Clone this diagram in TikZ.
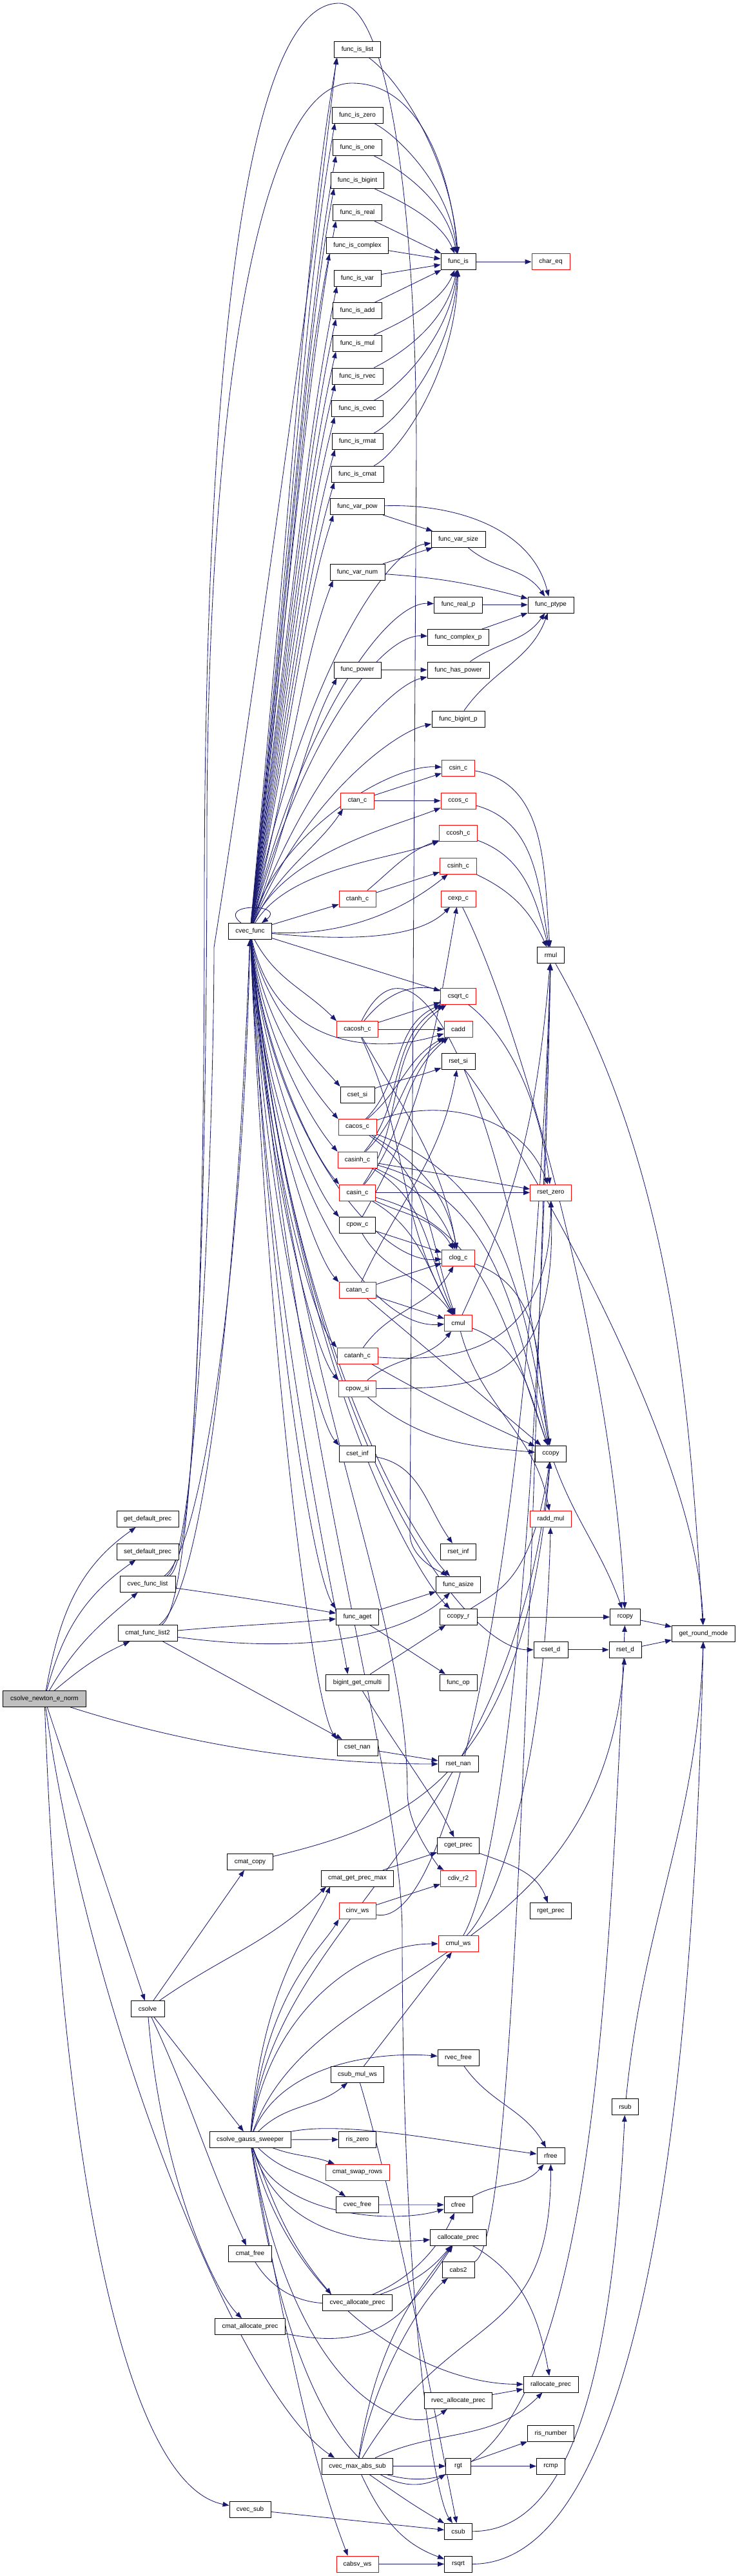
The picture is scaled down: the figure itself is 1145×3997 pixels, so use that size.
\documentclass[tikz,border=0pt]{standalone}
\usepackage{fontspec}
\setmainfont{Liberation Sans}
\usetikzlibrary{arrows.meta}
\pgfdeclarelayer{bg}
\pgfsetlayers{bg,main}
\definecolor{edgecol}{RGB}{25,25,112}
\definecolor{rootgray}{RGB}{191,191,191}
\definecolor{redb}{RGB}{255,0,0}
\begin{document}
\begin{tikzpicture}[x=1pt,y=1pt,
  nd/.style={draw=black, line width=0.8pt, minimum height=25pt, inner xsep=2pt, inner ysep=0pt, font=\fontsize{10}{12}\selectfont, fill=white},
  rd/.style={nd, draw=redb},
  e/.style={draw=edgecol, line width=0.85pt, -{Triangle[length=10pt,width=7.5pt]}}]
\useasboundingbox (0,0) rectangle (1145,-3997);
% ---- column 0/1/2
\node[nd,minimum width=129pt,fill=rootgray] (root) at (69,-2636) {csolve\_newton\_e\_norm};
\node[nd,minimum width=96pt] (gdp) at (229,-2357) {get\_default\_prec};
\node[nd,minimum width=96pt] (sdp) at (229,-2407.5) {set\_default\_prec};
\node[nd,minimum width=86pt] (cfl) at (229,-2458) {cvec\_func\_list};
\node[nd,minimum width=92pt] (cfl2) at (229,-2534) {cmat\_func\_list2};
\node[nd,minimum width=52pt] (csolve) at (229,-3117) {csolve};
\node[nd,minimum width=67pt] (cvf) at (388,-1445) {cvec\_func};
\node[nd,minimum width=71pt] (cmcopy) at (388,-2889) {cmat\_copy};
\node[nd,minimum width=126pt] (cgs) at (388,-3320) {csolve\_gauss\_sweeper};
\node[nd,minimum width=67pt] (cmfree) at (388,-3497) {cmat\_free};
\node[nd,minimum width=109pt] (cmalloc) at (388,-3610) {cmat\_allocate\_prec};
\node[nd,minimum width=64pt] (cvsub) at (388,-3894) {cvec\_sub};
% ---- column 3
\node[nd,minimum width=72pt] (isl) at (554.5,-77) {func\_is\_list};
\node[nd,minimum width=79pt] (isz) at (554.5,-178.4) {func\_is\_zero};
\node[nd,minimum width=76pt] (iso) at (554.5,-229) {func\_is\_one};
\node[nd,minimum width=82pt] (isb) at (554.5,-279.5) {func\_is\_bigint};
\node[nd,minimum width=76pt] (isr) at (554.5,-330.2) {func\_is\_real};
\node[nd,minimum width=96pt] (isc) at (554.5,-381) {func\_is\_complex};
\node[nd,minimum width=73pt] (isv) at (554.5,-431.6) {func\_is\_var};
\node[nd,minimum width=76pt] (isa) at (554.5,-482.3) {func\_is\_add};
\node[nd,minimum width=76pt] (ism) at (554.5,-532.8) {func\_is\_mul};
\node[nd,minimum width=79pt] (isrv) at (554.5,-583.4) {func\_is\_rvec};
\node[nd,minimum width=80pt] (iscv) at (554.5,-634.1) {func\_is\_cvec};
\node[nd,minimum width=79pt] (isrm) at (554.5,-684.8) {func\_is\_rmat};
\node[nd,minimum width=81pt] (iscm) at (554.5,-735.5) {func\_is\_cmat};
\node[nd,minimum width=84pt] (vpow) at (554.5,-786.2) {func\_var\_pow};
\node[nd,minimum width=85pt] (vnum) at (554.5,-887.7) {func\_var\_num};
\node[nd,minimum width=73pt] (fpow) at (554.5,-1039.4) {func\_power};
\node[rd,minimum width=52pt] (ctan) at (554.5,-1242.5) {ctan\_c};
\node[rd,minimum width=57pt] (ctanh) at (554.5,-1394.5) {ctanh\_c};
\node[rd,minimum width=64pt] (cacosh) at (554.5,-1597) {cacosh\_c};
\node[nd,minimum width=53pt] (csetsi) at (554.5,-1698.6) {cset\_si};
\node[rd,minimum width=59pt] (cacos) at (554.5,-1749) {cacos\_c};
\node[rd,minimum width=61pt] (casinh) at (554.5,-1799.6) {casinh\_c};
\node[rd,minimum width=56pt] (casin) at (554.5,-1850.4) {casin\_c};
\node[nd,minimum width=56pt] (cpowc) at (554.5,-1901) {cpow\_c};
\node[rd,minimum width=57pt] (catan) at (554.5,-2002.3) {catan\_c};
\node[rd,minimum width=63pt] (catanh) at (554.5,-2103.7) {catanh\_c};
\node[rd,minimum width=58pt] (cpowsi) at (554.5,-2154.4) {cpow\_si};
\node[nd,minimum width=56pt] (csetinf) at (554.5,-2255.5) {cset\_inf};
\node[nd,minimum width=66pt] (aget) at (554.5,-2509) {func\_aget};
\node[nd,minimum width=98pt] (bgc) at (554.5,-2610.5) {bigint\_get\_cmulti};
\node[nd,minimum width=63pt] (csetnan) at (554.5,-2711.6) {cset\_nan};
\node[nd,minimum width=112pt] (cgpm) at (554.5,-2914.5) {cmat\_get\_prec\_max};
\node[rd,minimum width=57pt] (cinvws) at (554.5,-2965.2) {cinv\_ws};
\node[nd,minimum width=82pt] (csmws) at (554.5,-3218.7) {csub\_mul\_ws};
\node[nd,minimum width=58pt] (riszero) at (554.5,-3319.7) {ris\_zero};
\node[rd,minimum width=99pt] (cswap) at (554.5,-3370.5) {cmat\_swap\_rows};
\node[nd,minimum width=66pt] (cvfree) at (554.5,-3420.9) {cvec\_free};
\node[nd,minimum width=108pt] (cvalloc) at (554.5,-3572.9) {cvec\_allocate\_prec};
\node[nd,minimum width=110pt] (cvmas) at (554.5,-3826.5) {cvec\_max\_abs\_sub};
\node[rd,minimum width=65pt] (cabsvws) at (554.5,-3978.4) {cabsv\_ws};
% ---- column 4
\node[nd,minimum width=54pt] (fis) at (711,-406.2) {func\_is};
\node[nd,minimum width=84pt] (vsize) at (711,-837) {func\_var\_size};
\node[nd,minimum width=75pt] (realp) at (711,-938.4) {func\_real\_p};
\node[nd,minimum width=95pt] (cplxp) at (711,-989) {func\_complex\_p};
\node[nd,minimum width=96pt] (haspow) at (711,-1039.4) {func\_has\_power};
\node[nd,minimum width=82pt] (bigp) at (711,-1115.4) {func\_bigint\_p};
\node[rd,minimum width=51pt] (csin) at (711,-1191.4) {csin\_c};
\node[rd,minimum width=54pt] (ccos) at (711,-1242.5) {ccos\_c};
\node[rd,minimum width=59pt] (ccosh) at (711,-1293) {ccosh\_c};
\node[rd,minimum width=57pt] (csinh) at (711,-1343.7) {csinh\_c};
\node[rd,minimum width=54pt] (cexp) at (711,-1394.5) {cexp\_c};
\node[rd,minimum width=55pt] (csqrt) at (711,-1546.2) {csqrt\_c};
\node[rd,minimum width=44pt] (cadd) at (711,-1597) {cadd};
\node[nd,minimum width=52pt] (rsetsi) at (711,-1647.3) {rset\_si};
\node[rd,minimum width=51pt] (clog) at (711,-1951.6) {clog\_c};
\node[rd,minimum width=43pt] (cmul) at (711,-2053) {cmul};
\node[nd,minimum width=55pt] (rsetinf) at (711,-2407.5) {rset\_inf};
\node[nd,minimum width=69pt] (asize) at (711,-2458.4) {func\_asize};
\node[nd,minimum width=58pt] (ccopyr) at (711,-2509) {ccopy\_r};
\node[nd,minimum width=58pt] (fop) at (711,-2610.5) {func\_op};
\node[nd,minimum width=62pt] (rsetnan) at (711,-2737) {rset\_nan};
\node[nd,minimum width=65pt] (cgetprec) at (711,-2863.6) {cget\_prec};
\node[rd,minimum width=55pt] (cdivr2) at (711,-2914.5) {cdiv\_r2};
\node[rd,minimum width=62pt] (cmulws) at (711,-3016) {cmul\_ws};
\node[nd,minimum width=64pt] (rvfree) at (711,-3193) {rvec\_free};
\node[nd,minimum width=44pt] (cfree) at (711,-3421) {cfree};
\node[nd,minimum width=87pt] (calloc) at (711,-3471.5) {callocate\_prec};
\node[nd,minimum width=50pt] (cabs2) at (711,-3522) {cabs2};
\node[nd,minimum width=105pt] (rvalloc) at (711,-3725) {rvec\_allocate\_prec};
\node[nd,minimum width=39pt] (rgt) at (711,-3826.5) {rgt};
\node[nd,minimum width=43pt] (csub) at (711,-3927.7) {csub};
\node[nd,minimum width=43pt] (rsqrt) at (711,-3978.4) {rsqrt};
% ---- column 5/6/7
\node[rd,minimum width=59pt] (chareq) at (854.5,-406.2) {char\_eq};
\node[nd,minimum width=71pt] (ptype) at (854.5,-938.4) {func\_ptype};
\node[nd,minimum width=42pt] (rmul) at (854.5,-1482.3) {rmul};
\node[rd,minimum width=64pt] (rsetzero) at (854.5,-1850.4) {rset\_zero};
\node[nd,minimum width=48pt] (ccopy) at (854.5,-2255.5) {ccopy};
\node[rd,minimum width=64pt] (raddmul) at (854.5,-2357) {radd\_mul};
\node[nd,minimum width=53pt] (csetd) at (854.5,-2559.8) {cset\_d};
\node[nd,minimum width=64pt] (rgetprec) at (854.5,-2965.2) {rget\_prec};
\node[nd,minimum width=43pt] (rfree) at (854.5,-3345) {rfree};
\node[nd,minimum width=85pt] (ralloc) at (854.5,-3699.4) {rallocate\_prec};
\node[nd,minimum width=72pt] (risnum) at (854.5,-3775.6) {ris\_number};
\node[nd,minimum width=44pt] (rcmp) at (854.5,-3826.5) {rcmp};
\node[nd,minimum width=47pt] (rcopy) at (970,-2509) {rcopy};
\node[nd,minimum width=50pt] (rsetd) at (970,-2559.8) {rset\_d};
\node[nd,minimum width=41pt] (rsub) at (970,-3269) {rsub};
\node[nd,minimum width=98pt] (grm) at (1091.4,-2534.4) {get\_round\_mode};
% ---- waypoints
\coordinate (wA1) at (317,-1400);
\coordinate (wA2) at (526,-5);
\coordinate (wA3) at (646,-700);
\coordinate (wA4) at (636,-2380);
\coordinate (wB1) at (321,-1300);
\coordinate (wB2) at (546,-129);
\coordinate (wL) at (332,-1470);
\coordinate (wS1) at (624,-3000);
\coordinate (wD1) at (632,-2780);
\begin{pgfonlayer}{bg}
% func_is group
\draw[e] (isl) .. controls +(70,-50) and +(-10,150) .. (fis);
\draw[e] (isz) .. controls +(60,-30) and +(-15,120) .. (fis);
\draw[e] (iso) .. controls +(60,-30) and +(-20,100) .. (fis);
\draw[e] (isb) .. controls +(50,-25) and +(-30,70) .. (fis);
\draw[e] (isr) -- (fis);
\draw[e] (isc) -- (fis);
\draw[e] (isv) -- (fis);
\draw[e] (isa) -- (fis);
\draw[e] (ism) .. controls +(50,25) and +(-30,-70) .. (fis);
\draw[e] (isrv) .. controls +(60,30) and +(-20,-100) .. (fis);
\draw[e] (iscv) .. controls +(60,30) and +(-15,-120) .. (fis);
\draw[e] (isrm) .. controls +(60,30) and +(-10,-150) .. (fis);
\draw[e] (iscm) .. controls +(60,30) and +(-5,-180) .. (fis);
\draw[e] (fis) -- (chareq);
% ptype group
\draw[e] (vpow) -- (vsize);
\draw[e] (vpow) .. controls +(150,5) and +(-30,120) .. (ptype);
\draw[e] (vnum) -- (vsize);
\draw[e] (vnum) to[out=-4,in=165] (ptype);
\draw[e] (vsize) to[out=-40,in=125] (ptype);
\draw[e] (realp) -- (ptype);
\draw[e] (cplxp) -- (ptype);
\draw[e] (haspow) to[out=35,in=-125] (ptype);
\draw[e] (bigp) to[out=55,in=-110] (ptype);
\draw[e] (fpow) -- (haspow);
% cvec_func fan upward (column 3)
\draw[e] (cvf) .. controls +(70,745) and +(-45,-250) .. ([xshift=5pt]isl.south west);
\draw[e] (cvf) .. controls +(70,683) and +(-45,-250) .. ([xshift=5pt]isz.south west);
\draw[e] (cvf) .. controls +(70,655) and +(-45,-250) .. ([xshift=5pt]iso.south west);
\draw[e] (cvf) .. controls +(70,627) and +(-45,-250) .. ([xshift=5pt]isb.south west);
\draw[e] (cvf) .. controls +(70,599) and +(-45,-240) .. ([xshift=5pt]isr.south west);
\draw[e] (cvf) .. controls +(70,571) and +(-45,-228) .. ([xshift=5pt]isc.south west);
\draw[e] (cvf) .. controls +(70,543) and +(-45,-217) .. ([xshift=5pt]isv.south west);
\draw[e] (cvf) .. controls +(70,515) and +(-45,-206) .. ([xshift=5pt]isa.south west);
\draw[e] (cvf) .. controls +(70,488) and +(-45,-195) .. ([xshift=5pt]ism.south west);
\draw[e] (cvf) .. controls +(70,460) and +(-45,-184) .. ([xshift=5pt]isrv.south west);
\draw[e] (cvf) .. controls +(70,432) and +(-45,-173) .. ([xshift=5pt]iscv.south west);
\draw[e] (cvf) .. controls +(70,404) and +(-45,-162) .. ([xshift=5pt]isrm.south west);
\draw[e] (cvf) .. controls +(70,376) and +(-45,-150) .. ([xshift=5pt]iscm.south west);
\draw[e] (cvf) .. controls +(70,348) and +(-45,-139) .. ([xshift=5pt]vpow.south west);
\draw[e] (cvf) .. controls +(70,293) and +(-45,-117) .. ([xshift=5pt]vnum.south west);
\draw[e] (cvf) .. controls +(70,209) and +(-45,-84) .. ([xshift=5pt]fpow.south west);
\draw[e] (cvf) .. controls +(40,90) and +(-40,-60) .. ([xshift=4pt]ctan.south west);
\draw[e] (cvf) -- (ctanh);
% cvec_func fan upward (column 4)
\draw[e] (cvf) .. controls +(80,400) and +(-110,-15) .. (vsize);
\draw[e] (cvf) .. controls +(80,330) and +(-110,5) .. (realp);
\draw[e] (cvf) .. controls +(80,300) and +(-120,5) .. (cplxp);
\draw[e] (cvf) .. controls +(80,230) and +(-110,-25) .. (haspow);
\draw[e] (cvf) .. controls +(80,200) and +(-100,-20) .. (bigp);
\draw[e] (cvf) .. controls +(40,150) and +(-110,5) .. (csin);
\draw[e] (cvf) .. controls +(50,120) and +(-100,-40) .. (ccos);
\draw[e] (cvf) .. controls +(60,100) and +(-100,-40) .. (ccosh);
\draw[e] (cvf) .. controls +(180,-10) and +(-50,-40) .. (csinh);
\draw[e] (cvf) .. controls +(200,-20) and +(-50,-50) .. (cexp);
\draw[e] (cvf) -- (csqrt);
\draw[e] (cvf) .. controls +(40,-180) and +(-130,-40) .. (cadd);
% self loop
\draw[e] ([xshift=-14pt]cvf.north) .. controls +(-40,32) and +(40,30) .. ([xshift=18pt]cvf.north);
% cvec_func fan downward (column 3)
\draw[e] (cvf) to[out=-62,in=135] (cacosh.north west);
\draw[e] (cvf) .. controls +(20,-115) and +(-40,45) .. (csetsi.north west);
\draw[e] (cvf) .. controls +(20,-140) and +(-40,45) .. (cacos.north west);
\draw[e] (cvf) .. controls +(20,-165) and +(-40,45) .. (casinh.north west);
\draw[e] (cvf) .. controls +(20,-190) and +(-40,45) .. (casin.north west);
\draw[e] (cvf) .. controls +(20,-215) and +(-40,45) .. (cpowc.north west);
\draw[e] (cvf) .. controls +(20,-265) and +(-40,45) .. (catan.north west);
\draw[e] (cvf) .. controls +(20,-315) and +(-40,45) .. (catanh.north west);
\draw[e] (cvf) .. controls +(20,-340) and +(-40,45) .. (cpowsi.north west);
\draw[e] (cvf) .. controls +(20,-390) and +(-40,45) .. (csetinf.north west);
\draw[e] (cvf) .. controls +(25,-520) and +(-40,60) .. (aget.north west);
\draw[e] (cvf) .. controls +(25,-570) and +(-15,90) .. ([xshift=-15pt]bgc.north);
\draw[e] (cvf) .. controls +(25,-620) and +(-40,60) .. (csetnan.north west);
% cvec_func fan downward (column 4/5)
\draw[e] (cvf) .. controls +(30,-300) and +(-130,-10) .. (clog);
\draw[e] (cvf) .. controls +(30,-380) and +(-140,-10) .. (cmul);
\draw[e] (cvf) .. controls +(60,-650) and +(-60,60) .. (asize);
\draw[e] (cvf) .. controls +(70,-700) and +(-60,60) .. (ccopyr);
\draw[e] (cvf) .. controls +(80,-800) and +(-130,0) .. (csetd);
\draw[e] (cvf) .. controls +(70,-800) and +(0,250) .. (wS1) .. controls +(0,-600) and +(-35,50) .. (csub);
\draw[e] (cvf) .. controls +(60,-700) and +(0,300) .. (wD1) .. controls +(0,-60) and +(-26,15) .. (cdivr2);
% list functions
\draw[e] ([xshift=34pt]cfl.north) .. controls +(50,30) and +(0,-300) .. (wA1) .. controls +(0,800) and +(-150,0) .. (wA2) .. controls +(80,0) and +(0,350) .. (wA3) -- (wA4) .. controls +(0,-40) and +(-20,15) .. (asize);
\draw[e] ([xshift=22pt]cfl2.north) .. controls +(60,40) and +(0,-400) .. (wB1) .. controls +(0,650) and +(-150,0) .. (wB2) .. controls +(110,0) and +(-11,130) .. (fis);
\draw[e] ([xshift=30pt]cfl.north) .. controls +(50,30) and +(0,-250) .. (wL) .. controls +(40,250) and +(-45,-400) .. ([xshift=4pt]isl.south west);
\draw[e] ([xshift=26pt]cfl.north) .. controls +(60,40) and +(-10,-500) .. (cvf);
\draw[e] ([xshift=18pt]cfl2.north) .. controls +(70,50) and +(-20,-550) .. (cvf);
\draw[e] (cfl) to[out=-8,in=170] (aget);
\draw[e] (cfl2) to[out=5,in=185] (aget);
\draw[e] (cfl2) .. controls +(300,-40) and +(-60,-60) .. (asize);
\draw[e] (cfl2) -- (csetnan);
% column 3 complex functions
\draw[e] (ctan) -- (csin);
\draw[e] (ctan) -- (ccos);
\draw[e] (ctanh) to[out=40,in=200] (ccosh);
\draw[e] (ctanh) -- (csinh);
\draw[e] (cacosh) -- (csqrt);
\draw[e] (cacosh) -- (cadd);
\draw[e] (cacosh) to[out=-60,in=100] (clog);
\draw[e] (cacosh) to[out=-65,in=120] (cmul);
\draw[e] (cacosh) .. controls +(100,200) and +(-60,500) .. (ccopy);
\draw[e] (cacosh) .. controls +(120,150) and +(-30,250) .. (rsetzero);
\draw[e] (cacos) to[out=45,in=205] (csqrt);
\draw[e] (cacos) to[out=40,in=210] (cadd);
\draw[e] (cacos) to[out=20,in=110] (rsetzero);
\draw[e] (cacos) to[out=-30,in=100] (clog);
\draw[e] (cacos) to[out=-35,in=110] (cmul);
\draw[e] (cacos) to[out=-20,in=100] (ccopy);
\draw[e] (casinh) to[out=50,in=210] (csqrt);
\draw[e] (casinh) to[out=45,in=215] (cadd);
\draw[e] (casinh) -- (rsetzero);
\draw[e] (casinh) to[out=-25,in=110] (clog);
\draw[e] (casinh) to[out=-30,in=115] (cmul);
\draw[e] (casinh) to[out=-15,in=105] (ccopy);
\draw[e] (casin) to[out=55,in=215] (csqrt);
\draw[e] (casin) to[out=50,in=220] (cadd);
\draw[e] (casin) -- (rsetzero);
\draw[e] (casin) to[out=-25,in=120] (clog);
\draw[e] (casin) to[out=-30,in=120] (cmul);
\draw[e] (casin) to[out=-15,in=110] (ccopy);
\draw[e] (cpowc) -- (clog);
\draw[e] (cpowc) to[out=60,in=-100] (cexp);
\draw[e] (cpowc) to[out=-60,in=125] (cmul);
\draw[e] (catan) -- (clog);
\draw[e] (catan) -- (cmul);
\draw[e] (catan) to[out=65,in=-100] (rsetsi);
\draw[e] (catan) -- (ccopy);
\draw[e] (catanh) to[out=55,in=-120] (clog);
\draw[e] (catanh) .. controls +(150,-10) and +(0,-250) .. (rsetzero);
\draw[e] (catanh) to[out=-30,in=155] (ccopy);
\draw[e] (cpowsi) to[out=40,in=-130] (cmul);
\draw[e] (cpowsi) .. controls +(200,0) and +(10,-300) .. (rsetzero);
\draw[e] (cpowsi) to[out=-40,in=175] (ccopy);
\draw[e] (csetsi) to[out=20,in=200] (rsetsi);
\draw[e] (csetinf) to[out=-10,in=125] (rsetinf);
\draw[e] (csetnan) -- (rsetnan);
\draw[e] (aget) -- (asize);
\draw[e] (aget) -- (fop);
\draw[e] (bgc) -- (ccopyr);
\draw[e] (bgc) .. controls +(60,-100) and +(-40,80) .. (cgetprec);
% column 4 to the right
\draw[e] (csin) to[out=-10,in=95] (rmul);
\draw[e] (ccos) to[out=-15,in=100] (rmul);
\draw[e] (ccosh) to[out=-20,in=105] (rmul);
\draw[e] (csinh) to[out=-25,in=115] (rmul);
\draw[e] (cmul) to[out=65,in=-95] (rmul);
\draw[e] (cmul) to[out=-75,in=100] (raddmul);
\draw[e] (cmul) to[out=-20,in=110] (ccopy);
\draw[e] (clog) to[out=-20,in=100] (ccopy);
\draw[e] (cexp) .. controls +(100,-200) and +(-20,400) .. (rcopy);
\draw[e] (rsetsi) .. controls +(80,-100) and +(-10,300) .. (grm);
\draw[e] (rmul) .. controls +(200,-350) and +(-20,300) .. (grm);
\draw[e] (ccopy) to[out=-70,in=110] (rcopy);
\draw[e] (ccopyr) -- (rcopy);
\draw[e] (ccopyr) .. controls +(60,40) and +(-30,-200) .. (ccopy);
\draw[e] (csetd) -- (rsetd);
\draw[e] (rcopy) -- (grm);
\draw[e] (rsetd) -- (grm);
\draw[e] (cgetprec) to[out=-20,in=110] (rgetprec);
\draw[e] (cgpm) -- (cgetprec);
\draw[e] (calloc) to[out=-30,in=100] (ralloc);
% root
\draw[e] (root) to[out=80,in=215] (gdp);
\draw[e] (root) to[out=75,in=215] (sdp);
\draw[e] (root) to[out=60,in=220] (cfl);
\draw[e] (root) to[out=40,in=205] (cfl2);
\draw[e] (root) -- (csolve);
\draw[e] (root) .. controls +(25,-700) and +(-200,40) .. (cvsub);
\draw[e] (root) .. controls +(70,-500) and +(-150,100) .. ([xshift=20pt]cvmas.north west);
\draw[e] (root) .. controls +(250,-80) and +(-200,0) .. (rsetnan);
% csolve
\draw[e] (csolve) -- (cmcopy);
\draw[e] (csolve) -- (cgs);
\draw[e] (csolve) to[out=35,in=225] ([xshift=8pt]cgpm.south west);
\draw[e] (csolve) .. controls +(20,-250) and +(-60,60) .. (cmalloc);
\draw[e] (csolve) to[out=-65,in=115] (cmfree);
\draw[e] (cmcopy) .. controls +(250,60) and +(-40,-500) .. (ccopy);
% gauss sweeper
\draw[e] (cgs) .. controls +(20,250) and +(-25,-60) .. ([xshift=14pt]cgpm.south west);
\draw[e] (cgs) .. controls +(25,230) and +(-30,-50) .. (cinvws.south west);
\draw[e] (cgs) .. controls +(30,200) and +(-150,0) .. (cmulws);
\draw[e] (cgs) .. controls +(40,350) and +(-60,-600) .. (ccopy);
\draw[e] (cgs) .. controls +(100,280) and +(-40,-500) .. (rsetd);
\draw[e] (cgs) .. controls +(50,120) and +(-120,10) .. (rvfree);
\draw[e] (cgs) to[out=45,in=-140] (csmws);
\draw[e] (cgs) -- (riszero);
\draw[e] (cgs) to[out=-20,in=160] (cswap);
\draw[e] (cgs) .. controls +(150,30) and +(-150,20) .. (rfree);
\draw[e] (cgs) to[out=-45,in=145] (cvfree);
\draw[e] (cgs) .. controls +(40,-120) and +(-100,-30) .. (cfree);
\draw[e] (cgs) .. controls +(50,-160) and +(-120,-10) .. (calloc);
\draw[e] (cgs) to[out=-70,in=130] ([xshift=14pt]cvalloc.north west);
\draw[e] (cgs) .. controls +(60,-250) and +(-200,0) .. (ralloc);
\draw[e] (cgs) .. controls +(70,-400) and +(-80,-60) .. (rvalloc);
\draw[e] (cgs) .. controls +(80,-550) and +(-80,-50) .. (rgt);
\draw[e] (cgs) .. controls +(80,-450) and +(-30,80) .. ([xshift=18pt]cabsvws.north west);
% lower part
\draw[e] (csmws) -- (cmulws);
\draw[e] (csmws) .. controls +(60,-200) and +(-30,150) .. (csub);
\draw[e] (cinvws) -- (cdivr2);
\draw[e] (cinvws) .. controls +(150,-30) and +(-30,-900) .. (rmul);
\draw[e] (cmulws) .. controls +(60,100) and +(-20,-1000) .. (rmul);
\draw[e] (cmulws) .. controls +(60,60) and +(-10,-400) .. (raddmul);
\draw[e] (rvfree) to[out=-55,in=120] (rfree);
\draw[e] (cvfree) -- (cfree);
\draw[e] (cmfree) .. controls +(80,-130) and +(-70,-150) .. (cfree);
\draw[e] (cvalloc) to[out=20,in=-130] (calloc);
\draw[e] (cmalloc) .. controls +(200,-40) and +(-80,-120) .. (calloc);
\draw[e] (cfree) to[out=30,in=-130] (rfree);
\draw[e] (rvalloc) -- (ralloc);
\draw[e] (cvmas) -- (rgt);
\draw[e] (cvmas) to[out=-35,in=150] (csub);
\draw[e] (cvmas) to[out=-65,in=160] (rsqrt);
\draw[e] (cvmas) to[out=25,in=-135] (ralloc);
\draw[e] (cvmas) .. controls +(30,200) and +(-60,-80) .. (calloc);
\draw[e] (cvmas) .. controls +(30,150) and +(-50,-40) .. (cabs2);
\draw[e] (cvmas) .. controls +(350,-100) and +(-30,-700) .. (rcopy);
\draw[e] (cvmas) .. controls +(150,250) and +(0,-300) .. (rfree);
\draw[e] (rgt) -- (risnum);
\draw[e] (rgt) -- (rcmp);
\draw[e] (cabsvws) -- (rsqrt);
\draw[e] (csub) .. controls +(180,0) and +(-20,-400) .. (rsub);
\draw[e] (rsqrt) .. controls +(250,0) and +(-20,-900) .. (grm);
\draw[e] (rsub) .. controls +(30,300) and +(-10,-300) .. (grm);
\draw[e] (cabs2) .. controls +(80,40) and +(-40,-1300) .. (rmul);
\draw[e] (cvsub) -- (csub);
\end{pgfonlayer}
\end{tikzpicture}
\end{document}
